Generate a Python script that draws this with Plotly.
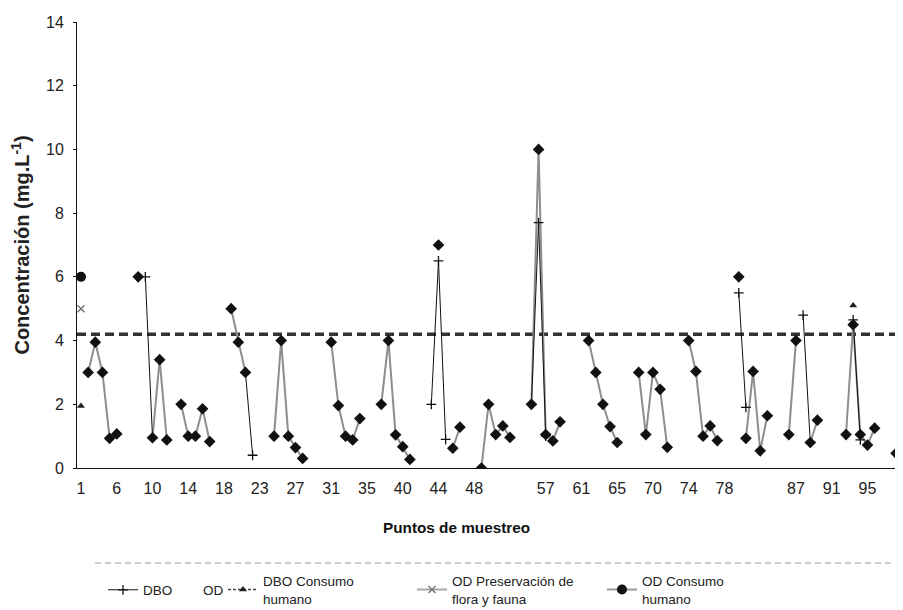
import plotly.graph_objects as go

# ---------------- data ----------------
tick_labels = ["1", "6", "10", "14", "18", "23", "27", "31", "35", "40", "44", "48", "",
               "57", "61", "65", "70", "74", "78", "", "87", "91", "95"]
tick_step = 5
tick_vals = [i * tick_step for i, t in enumerate(tick_labels) if t]
tick_text = [t for t in tick_labels if t]

# OD (grey line, black diamonds); None = gap
od_x = [1, 2, 3, 4, 5, None, 8, None, 10, 11, 12, None, 14, 15, 16, 17, 18, None,
        21, 22, 23, None, 27, 28, 29, 30, 31, None, 35, 36, 37, 38, 39, None,
        42, 43, 44, 45, 46, None, 50, None, 52, 53, None, 56, 57, 58, 59, 60, None,
        63, 64, 65, 66, 67, None, 71, 72, 73, 74, 75, None, 78, 79, 80, 81, 82, None,
        85, 86, 87, 88, 89, None, 92, None, 93, 94, 95, 96, None, 99, 100, None,
        102, 103, None, 107, 108, 109, 110, 111, None, 114]
od_y = [3.0, 3.95, 3.0, 0.93, 1.07, None, 6.0, None, 0.95, 3.4, 0.88, None, 2.0, 1.0, 1.0, 1.86, 0.83, None,
        5.0, 3.95, 3.0, None, 1.0, 4.0, 1.0, 0.64, 0.3, None, 3.95, 1.96, 1.0, 0.88, 1.55, None,
        2.0, 4.0, 1.04, 0.67, 0.27, None, 7.0, None, 0.62, 1.28, None, 0.0, 2.0, 1.05, 1.32, 0.96, None,
        2.0, 10.0, 1.05, 0.85, 1.45, None, 4.0, 3.0, 2.0, 1.3, 0.8, None, 3.0, 1.05, 3.0, 2.47, 0.65, None,
        4.0, 3.03, 1.0, 1.32, 0.86, None, 6.0, None, 0.93, 3.03, 0.54, 1.64, None, 1.05, 4.0, None,
        0.8, 1.5, None, 1.05, 4.5, 1.05, 0.72, 1.25, None, 0.46]

# DBO (thin black line, cross markers)
dbo_x = [9, 10, None, 23, 24, None, 49, 50, 51, None, 63, 64, 65, None, 92, 93, None, 101, 102, None, 108, 109]
dbo_y = [6.0, 0.95, None, 3.0, 0.4, None, 2.0, 6.5, 0.9, None, 2.0, 7.7, 1.0, None, 5.5, 1.9, None, 4.8, 0.8, None, 4.65, 0.88]

# reference points
dbo_ch_x = [0, None, 108]
dbo_ch_y = [1.95, None, 5.1]
od_pff_x = [0]
od_pff_y = [5.0]
od_ch_x = [0]
od_ch_y = [6.0]

reference_level = 4.2

x_range = [-0.56, 114.55]
y_range = [0, 14]

FONT = "Liberation Sans, Arial, sans-serif"

# page body has an 8px margin; the figure is sized/margined to compensate
PAGE_OFF = 8
PLOT_L, PLOT_T, PLOT_W, PLOT_H = 77, 22, 823, 446   # plot area in screen pixels

fig = go.Figure()

# dashed reference level
fig.add_trace(go.Scatter(
    x=x_range, y=[reference_level, reference_level], mode="lines",
    line=dict(color="#333333", width=3.5, dash="9px,5px"),
    showlegend=False, hoverinfo="skip", cliponaxis=False))

# OD main series
fig.add_trace(go.Scatter(
    x=od_x, y=od_y, mode="lines+markers", name="OD",
    line=dict(color="#8e8e8e", width=2),
    marker=dict(symbol="diamond", size=9, color="#111111"),
    showlegend=False))

# DBO
fig.add_trace(go.Scatter(
    x=dbo_x, y=dbo_y, mode="lines+markers", name="DBO",
    line=dict(color="#111111", width=1),
    marker=dict(symbol="cross-thin", size=7, line=dict(color="#111111", width=1.3)),
    legend="legend"))

# OD legend entry (no visible symbol)
fig.add_trace(go.Scatter(
    x=[None], y=[None], mode="lines", name="OD",
    line=dict(color="rgba(0,0,0,0)", width=1), legend="legend2"))

fig.add_trace(go.Scatter(
    x=dbo_ch_x, y=dbo_ch_y, mode="lines+markers", name="DBO Consumo<br>humano",
    line=dict(color="#444444", width=1.5, dash="3px,2px"),
    marker=dict(symbol="triangle-up", size=7, color="#222222"),
    legend="legend3"))

fig.add_trace(go.Scatter(
    x=od_pff_x, y=od_pff_y, mode="lines+markers", name="OD Preservación de<br>flora y fauna",
    line=dict(color="#aaaaaa", width=2),
    marker=dict(symbol="x-thin", size=7, line=dict(color="#777777", width=1.5)),
    legend="legend4"))

fig.add_trace(go.Scatter(
    x=od_ch_x, y=od_ch_y, mode="lines+markers", name="OD Consumo<br>humano",
    line=dict(color="#999999", width=2),
    marker=dict(symbol="circle", size=10, color="#111111"),
    legend="legend5"))


def px_x(px):
    return (px - PLOT_L) / PLOT_W


def px_y(py):
    return (PLOT_T + PLOT_H - py) / PLOT_H


leg_common = dict(orientation="h", yanchor="middle", xanchor="left", y=px_y(590),
                  font=dict(family=FONT, size=13.5, color="#222222"),
                  bgcolor="rgba(0,0,0,0)", borderwidth=0, itemclick=False)


def leg(xpx):
    d = dict(leg_common)
    d["x"] = px_x(xpx)
    return d


W, H = 903 - PAGE_OFF, 610 - PAGE_OFF
fig.update_layout(
    width=W, height=H,
    margin=dict(l=PLOT_L - PAGE_OFF, t=PLOT_T - PAGE_OFF,
                r=W - (PLOT_L - PAGE_OFF) - PLOT_W,
                b=H - (PLOT_T - PAGE_OFF) - PLOT_H, autoexpand=False),
    paper_bgcolor="white", plot_bgcolor="white",
    font=dict(family=FONT, size=16, color="#222222"),
    xaxis=dict(range=x_range, tickmode="array", tickvals=tick_vals, ticktext=tick_text,
               showline=True, linecolor="#111111", linewidth=1, ticks="", showgrid=False,
               zeroline=False, ticklabelstandoff=6, automargin=False,
               tickfont=dict(family=FONT, size=16, color="#222222")),
    yaxis=dict(range=y_range, dtick=2, showline=True, linecolor="#111111", linewidth=1,
               ticks="outside", ticklen=3, tickcolor="#111111", showgrid=False, zeroline=False,
               ticklabelstandoff=6, automargin=False,
               tickfont=dict(family=FONT, size=16, color="#222222"),
               title=dict(text="<b>Concentración (mg.L<sup>-1</sup>)</b>", standoff=17,
                          font=dict(family=FONT, size=20, color="#222222"))),
    legend=leg(103), legend2=leg(163), legend3=leg(223), legend4=leg(412), legend5=leg(602),
    annotations=[
        dict(text="<b>Puntos de muestreo</b>", xref="paper", yref="paper",
             x=px_x(456), y=px_y(527), showarrow=False,
             xanchor="center", yanchor="middle", font=dict(family=FONT, size=15.3, color="#111111")),
    ],
    shapes=[
        dict(type="line", xref="paper", yref="paper", x0=px_x(95), x1=px_x(903),
             y0=px_y(563), y1=px_y(563),
             line=dict(color="#9a9a9a", width=1, dash="6px,4px")),
    ],
)

fig.write_html("out.html")
